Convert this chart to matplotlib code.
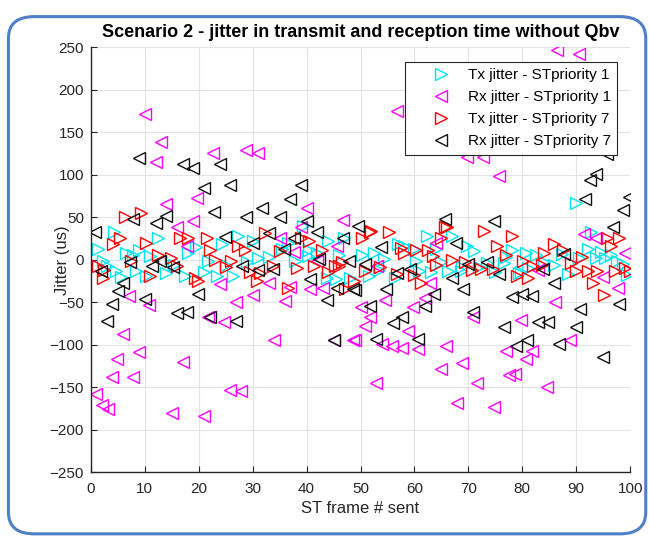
import matplotlib
matplotlib.use("Agg")
import matplotlib.pyplot as plt
from matplotlib.patches import FancyBboxPatch

plt.rcParams['font.family'] = ['Liberation Sans', 'DejaVu Sans']

# Tx jitter - STpriority 1 (cyan)
tx1_x = [1.3, 2.2, 4.2, 4.6, 6.5, 7.8, 8.3, 9, 10.2, 12.4, 14, 17.4, 18, 21, 21.7,
         23.4, 24.3, 26.3, 27.3, 30, 31, 35.4, 37.8, 39.3, 40.3, 40.4, 42, 43.8, 44,
         45.5, 47, 48, 50.3, 51.6, 52.5, 54.4, 56.4, 58, 60, 60.3, 60.9, 62.3, 63,
         65, 66.3, 67, 68.7, 68.8, 69.8, 73.5, 76.6, 78, 79.4, 79.8, 80.7, 81, 82.5,
         85.8, 87.4, 90, 90.5, 92.2, 92.8, 93.7, 95.3, 96.5, 98.7, 99.5, 100,
         3, 5.5, 11, 15.5, 19.5, 25, 29, 33, 36.5, 46, 53.5, 57, 64, 71, 72, 75,
         77, 84, 88.5, 94.5, 97.5]
tx1_y = [12, -2, 32, -13, 8, 5, -13, 11, -19, 25, -16, -19, 8, -15, -1,
         -19, 19, -19, 28, 22, 2, 13, -1, 40, 4, 11, 8, -21, 22,
         -23, 25, -22, 5, -19, 8, 1, -22, 16, 12, -1, -13, 28, -15,
         -3, -13, 28, -13, -9, 16, -4, -4, 11, -16, -15, 8, -10, 5,
         -6, 7, 67, 2, 13, 32, 2, 2, 5, -5, -18, -13,
         -8, -20, 4, -6, 15, -6, -3, 3, 20, 6, -12, 18, 12, 10, -9, -15,
         3, -3, -17, 9, -2]

# Rx jitter - STpriority 1 (magenta)
rx1_x = [1, 2, 3.2, 3.9, 4.8, 6, 7, 7.8, 8.9, 10, 10.8, 12, 13, 14, 15, 16,
         17, 17.8, 19, 19.7, 21, 21.7, 22.6, 24, 24.7, 25.8, 27, 27.8, 28.8, 30,
         31, 33, 34, 35, 36, 37, 37.7, 39, 40, 40.6, 43, 45, 45.6, 46.8, 48.6,
         49, 50, 50.8, 51.8, 52.9, 54, 54.5, 55.8, 56.8, 57.7, 58.8, 59.7, 60.7,
         62, 62.9, 65, 65.9, 67.9, 68.8, 69.8, 70.8, 71.6, 72.7, 74.8, 75.7,
         77, 77.6, 78.7, 79.8, 80.7, 81.8, 84.6, 86, 88.9, 90.6, 86.5, 93.7, 97.8,
         42, 53, 64, 83, 91.5, 95, 99]
rx1_y = [-158, -171, -176, -138, -117, -87, -43, -138, -108, 171, -53, 115, 139, 65,
         -180, 38, -120, 16, 46, 72, -184, -68, 125, -29, -73, -153, -50, -155, 129,
         -42, 126, -27, -94, 26, -49, -32, 9, 38, 61, -34, -33, -94, 16, 47, -94,
         -94, -56, -78, -68, -145, -99, -47, -101, 175, -104, -84, -56, -105,
         -45, -28, -128, -101, -169, -122, 121, -68, -145, 121, -173, 99,
         -107, -136, -134, -71, -117, -107, -150, -50, -95, 242, 247, 26, -33,
         -2, -8, 20, -12, 30, -20, 8]

# Tx jitter - STpriority 7 (red)
tx7_x = [1.3, 2.2, 2.5, 4.1, 5.4, 6.3, 9.3, 10.2, 11, 14.8, 16, 16.5, 18, 19.3,
         19.9, 21.5, 22, 23, 25, 26, 27.3, 28.5, 30.8, 31.4, 32.3, 33.8, 36.6,
         38.3, 39, 40.4, 41.4, 42.9, 45.2, 46, 46.5, 47.1, 48.8, 50.3, 50.8, 51.8,
         52, 53.6, 55.3, 56.8, 58, 59.9, 60.3, 61.2, 62.5, 63.5, 65, 65.7, 66, 67,
         69.4, 70.6, 72.3, 72.9, 74.5, 75.3, 78, 79, 80.2, 82, 83.6, 84, 85.9,
         87.6, 90, 92.2, 93.1, 93.8, 95.2, 95.7, 96.5, 97.2, 98, 99, 100,
         7.5, 12.5, 29.5, 35, 44, 57.5, 64, 77, 81, 89, 91]
tx7_y = [-7, -21, -12, 19, 25, 50, 55, 20, -19, 2, -8, 25, 26, -22,
         -25, 25, 11, 0, -9, -1, 16, 11, -25, -16, 31, -7, -33,
         -10, 25, 22, -7, 11, -7, -7, -3, -34, -25, 25, -13, 32,
         34, -9, 32, -17, 8, -18, 11, -27, 11, 4, 25, 38, 38, 0,
         -3, -12, -11, 34, -11, 16, 28, -19, -1, -8, -6, 8, 19,
         11, -13, -13, -27, -13, -42, 25, 16, -13, 25, -10, -13,
         -2, 6, -14, 10, -15, 14, -6, 5, -22, -4, 3]

# Rx jitter - STpriority 7 (black)
rx7_x = [0.7, 1.9, 3, 3.9, 5, 6, 7.2, 7.8, 9, 10, 11.3, 12, 12.8, 14, 15.2, 16,
         17, 17.8, 19, 19.8, 21, 22, 22.8, 24, 24.8, 25.8, 27, 28, 28.8, 30, 31,
         31.7, 33, 33.8, 35, 35.8, 37, 37.7, 39, 40, 40.6, 42, 42.3, 43.8, 45,
         45.6, 46.8, 47.9, 48.6, 49, 49.5, 50.8, 51.8, 52.9, 53.8, 54.7, 56, 56.8,
         57.7, 59.2, 60.7, 62, 63.6, 65.7, 67, 67.7, 69, 70, 70.9, 73.5, 74.8,
         75.7, 76.6, 78, 78.8, 80, 80.9, 81.8, 82.9, 83.9, 84.7, 85.9, 86.8,
         87.8, 90, 90.7, 91.7, 92.6, 93.7, 95, 95.7, 96.8, 98, 98.7, 99.8]
rx7_y = [33, -13, -72, -52, -37, -28, -3, 48, 120, -46, -7, 43, -1, 51, -9, -63,
         113, -62, 108, -40, 84, -68, 56, 113, 27, 88, -72, -7, 50, 20, -12,
         61, 31, -11, 50, 13, 71, 26, 88, 46, -23, 32, 1, -48, -94,
         -33, 26, -1, -35, -36, 40, -5, -54, -93, 15, -35, -74, -16,
         -68, -11, -93, -54, -40, 48, -22, 20, -34, -5, -61, -3, 46,
         -17, -79, -44, -101, -40, -95, -43, -73, -11, -73, -28, -99,
         7, -79, -58, 71, 94, 101, -115, 124, 39, -52, 58, 74]

fig = plt.figure(figsize=(6.49, 5.36), dpi=100)
ax = fig.add_axes([0.140, 0.119, 0.831, 0.793])

ms = 8
ax.plot(tx1_x, tx1_y, linestyle='none', marker='>', markersize=ms,
        markerfacecolor='none', markeredgecolor='#00e5f0', markeredgewidth=1.0,
        label='Tx jitter - STpriority 1')
ax.plot(rx1_x, rx1_y, linestyle='none', marker='<', markersize=ms,
        markerfacecolor='none', markeredgecolor='#ff00ff', markeredgewidth=1.0,
        label='Rx jitter - STpriority 1')
ax.plot(tx7_x, tx7_y, linestyle='none', marker='>', markersize=ms,
        markerfacecolor='none', markeredgecolor='#ff0000', markeredgewidth=1.0,
        label='Tx jitter - STpriority 7')
ax.plot(rx7_x, rx7_y, linestyle='none', marker='<', markersize=ms,
        markerfacecolor='none', markeredgecolor='#111111', markeredgewidth=1.0,
        label='Rx jitter - STpriority 7')

ax.set_xlim(0, 100)
ax.set_ylim(-250, 250)
ax.set_xticks(range(0, 101, 10))
ax.set_yticks(range(-250, 251, 50))
ax.grid(True, color='#e3e3e3', linewidth=0.8)
ax.set_axisbelow(True)
for s in ['top', 'right']:
    ax.spines[s].set_visible(False)
for s in ['left', 'bottom']:
    ax.spines[s].set_color('#262626')
    ax.spines[s].set_linewidth(1.0)
ax.tick_params(direction='in', length=4, colors='#262626', labelsize=11)
ax.tick_params(axis='x', pad=7)
ax.tick_params(axis='y', pad=5)

ax.set_title('Scenario 2 - jitter in transmit and reception time without Qbv',
             fontsize=13, fontweight='bold', pad=7)
ax.set_xlabel('ST frame # sent', fontsize=12, color='#262626', labelpad=4)
ax.set_ylabel('Jitter (us)', fontsize=12, color='#262626')
ax.yaxis.set_label_coords(-0.038, 0.5)

leg = ax.legend(loc='upper right', bbox_to_anchor=(0.976, 0.965), fontsize=11,
                frameon=True, fancybox=False, framealpha=1, edgecolor='#262626',
                handletextpad=-0.2, borderpad=0.42, labelspacing=0.52,
                handlelength=3.9, borderaxespad=0)
leg.get_frame().set_linewidth(0.8)

# rounded blue frame around the picture
border = FancyBboxPatch((0.013, 0.004), 0.982, 0.965, transform=fig.transFigure,
                        boxstyle='round,pad=0,rounding_size=0.04',
                        facecolor='none', edgecolor='#4f7fc6', linewidth=2.2,
                        clip_on=False)
fig.patches.append(border)

fig.savefig('out.png', dpi=100)
